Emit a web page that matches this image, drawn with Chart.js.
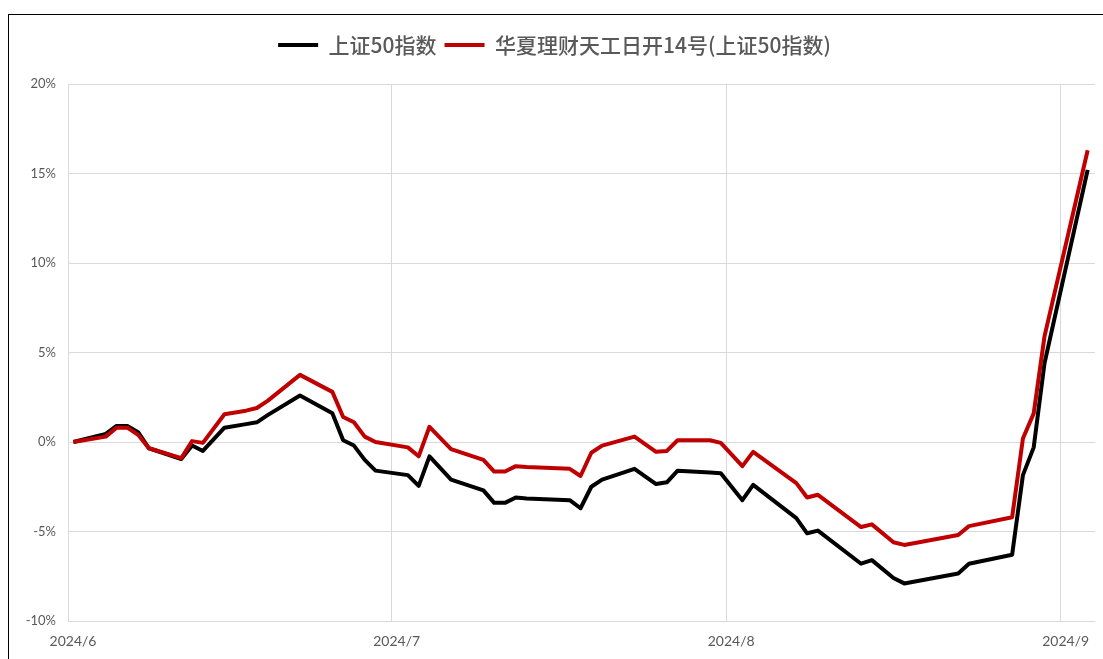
<!DOCTYPE html>
<html>
<head>
<meta charset="utf-8">
<script src="https://cdn.jsdelivr.net/npm/chart.js@4.4.1/dist/chart.umd.min.js"></script>
<style>
  html, body { margin: 0; padding: 0; background: #fff; overflow: hidden; width: 1103px; height: 659px; }
  #frame { position: absolute; left: 8px; top: 14px; width: 1200px; height: 800px; border: 1.5px solid #000; box-sizing: border-box; pointer-events: none; }
  #c { position: absolute; left: 0; top: 0; }
</style>
</head>
<body>
<canvas id="c" width="1103" height="659"></canvas>
<div id="frame"></div>
<script>
// ---- data ----
const seriesNames = ['上证50指数', '华夏理财天工日开14号(上证50指数)'];
const dates = [
  '2024-06-01','2024-06-04','2024-06-05','2024-06-06','2024-06-07','2024-06-08',
  '2024-06-11','2024-06-12','2024-06-13','2024-06-15',
  '2024-06-17','2024-06-18','2024-06-19','2024-06-22',
  '2024-06-25','2024-06-26','2024-06-27','2024-06-28','2024-06-29',
  '2024-07-02','2024-07-03','2024-07-04','2024-07-06',
  '2024-07-09','2024-07-10','2024-07-11','2024-07-12','2024-07-13',
  '2024-07-17','2024-07-18','2024-07-19','2024-07-20',
  '2024-07-23','2024-07-25','2024-07-26','2024-07-27',
  '2024-07-30','2024-07-31',
  '2024-08-02','2024-08-03',
  '2024-08-07','2024-08-08','2024-08-09',
  '2024-08-13','2024-08-14',
  '2024-08-16','2024-08-17',
  '2024-08-22','2024-08-23',
  '2024-08-27','2024-08-28','2024-08-29','2024-08-30',
  '2024-09-03'
];
const sse50 = [
  0, 0.45, 0.9, 0.9, 0.55, -0.35,
  -0.95, -0.2, -0.5, 0.8,
  1.0, 1.1, 1.5, 2.6,
  1.6, 0.1, -0.2, -1.0, -1.6,
  -1.85, -2.45, -0.8, -2.1,
  -2.7, -3.4, -3.4, -3.1, -3.15,
  -3.25, -3.7, -2.5, -2.1,
  -1.5, -2.35, -2.25, -1.6,
  -1.7, -1.75,
  -3.25, -2.4,
  -4.25, -5.1, -4.95,
  -6.8, -6.6,
  -7.6, -7.9,
  -7.35, -6.8,
  -6.3, -1.85, -0.3, 4.4,
  15.2
];
const product14 = [
  0, 0.3, 0.8, 0.8, 0.4, -0.35,
  -0.9, 0.05, -0.05, 1.55,
  1.75, 1.9, 2.3, 3.75,
  2.8, 1.4, 1.1, 0.3, 0.0,
  -0.3, -0.8, 0.85, -0.4,
  -1.0, -1.65, -1.65, -1.35, -1.4,
  -1.5, -1.9, -0.6, -0.2,
  0.3, -0.55, -0.5, 0.1,
  0.1, -0.05,
  -1.35, -0.55,
  -2.3, -3.1, -2.95,
  -4.75, -4.6,
  -5.6, -5.75,
  -5.2, -4.7,
  -4.2, 0.2, 1.6, 5.9,
  16.3
];
const monthStarts = ['2024-06-01','2024-07-01','2024-08-01','2024-09-01'];
const xTickLabels = ['2024/6','2024/7','2024/8','2024/9'];
const yTickValues = [-10, -5, 0, 5, 10, 15, 20];

// ---- helpers ----
const DAY = 86400000;
const base = Date.parse('2024-06-01');
const dayIndex = s => (Date.parse(s) - base) / DAY;
const toPoints = vals => dates.map((d, i) => ({ x: dayIndex(d), y: vals[i] }));
const monthTickPos = monthStarts.map(s => dayIndex(s) - 0.5);

const legendSpacer = {
  id: 'legendSpacer',
  afterInit(chart) {
    const lg = chart.legend;
    const orig = lg.fit;
    lg.fit = function () { orig.call(this); this.height += 18.5; };
  }
};

new Chart(document.getElementById('c'), {
  type: 'line',
  data: {
    datasets: [
      { label: seriesNames[0], data: toPoints(sse50), borderColor: '#000000', backgroundColor: '#000000',
        borderWidth: 4, pointRadius: 0, tension: 0, borderJoinStyle: 'round', order: 1 },
      { label: seriesNames[1], data: toPoints(product14), borderColor: '#C00000', backgroundColor: '#C00000',
        borderWidth: 4, pointRadius: 0, tension: 0, borderJoinStyle: 'round', order: 0 }
    ]
  },
  options: {
    responsive: false,
    devicePixelRatio: 1,
    animation: false,
    layout: { padding: { left: 14, right: 8, top: 26.5, bottom: 0 } },
    plugins: {
      tooltip: { enabled: false },
      legend: {
        display: true,
        position: 'top',
        align: 'center',
        labels: {
          usePointStyle: true,
          pointStyle: 'line',
          pointStyleWidth: 40,
          padding: 8,
          color: '#595959',
          font: { family: '"Noto Sans CJK SC", sans-serif', size: 21, weight: '500' },
          sort: (a, b) => a.datasetIndex - b.datasetIndex
        }
      }
    },
    scales: {
      x: {
        type: 'linear',
        min: -0.5,
        max: 94.68,
        border: { display: false },
        grid: { color: '#d9d9d9', lineWidth: 1, drawTicks: false },
        afterBuildTicks: s => { s.ticks = monthTickPos.map(v => ({ value: v })); },
        afterFit: s => { s.height = 38; },
        ticks: {
          autoSkip: false,
          maxRotation: 0,
          padding: 12,
          labelOffset: 5,
          color: '#595959',
          font: { family: 'Lato, sans-serif', size: 14 },
          callback: (v, i) => xTickLabels[i]
        }
      },
      y: {
        min: -10,
        max: 20,
        border: { display: false },
        grid: { color: '#d9d9d9', lineWidth: 1, drawTicks: false },
        afterBuildTicks: s => { s.ticks = yTickValues.map(v => ({ value: v })); },
        afterFit: s => { s.width = 54; },
        ticks: {
          padding: 12,
          color: '#595959',
          font: { family: 'Lato, sans-serif', size: 13 },
          callback: v => v + '%'
        }
      }
    }
  },
  plugins: [legendSpacer]
});
</script>
</body>
</html>
